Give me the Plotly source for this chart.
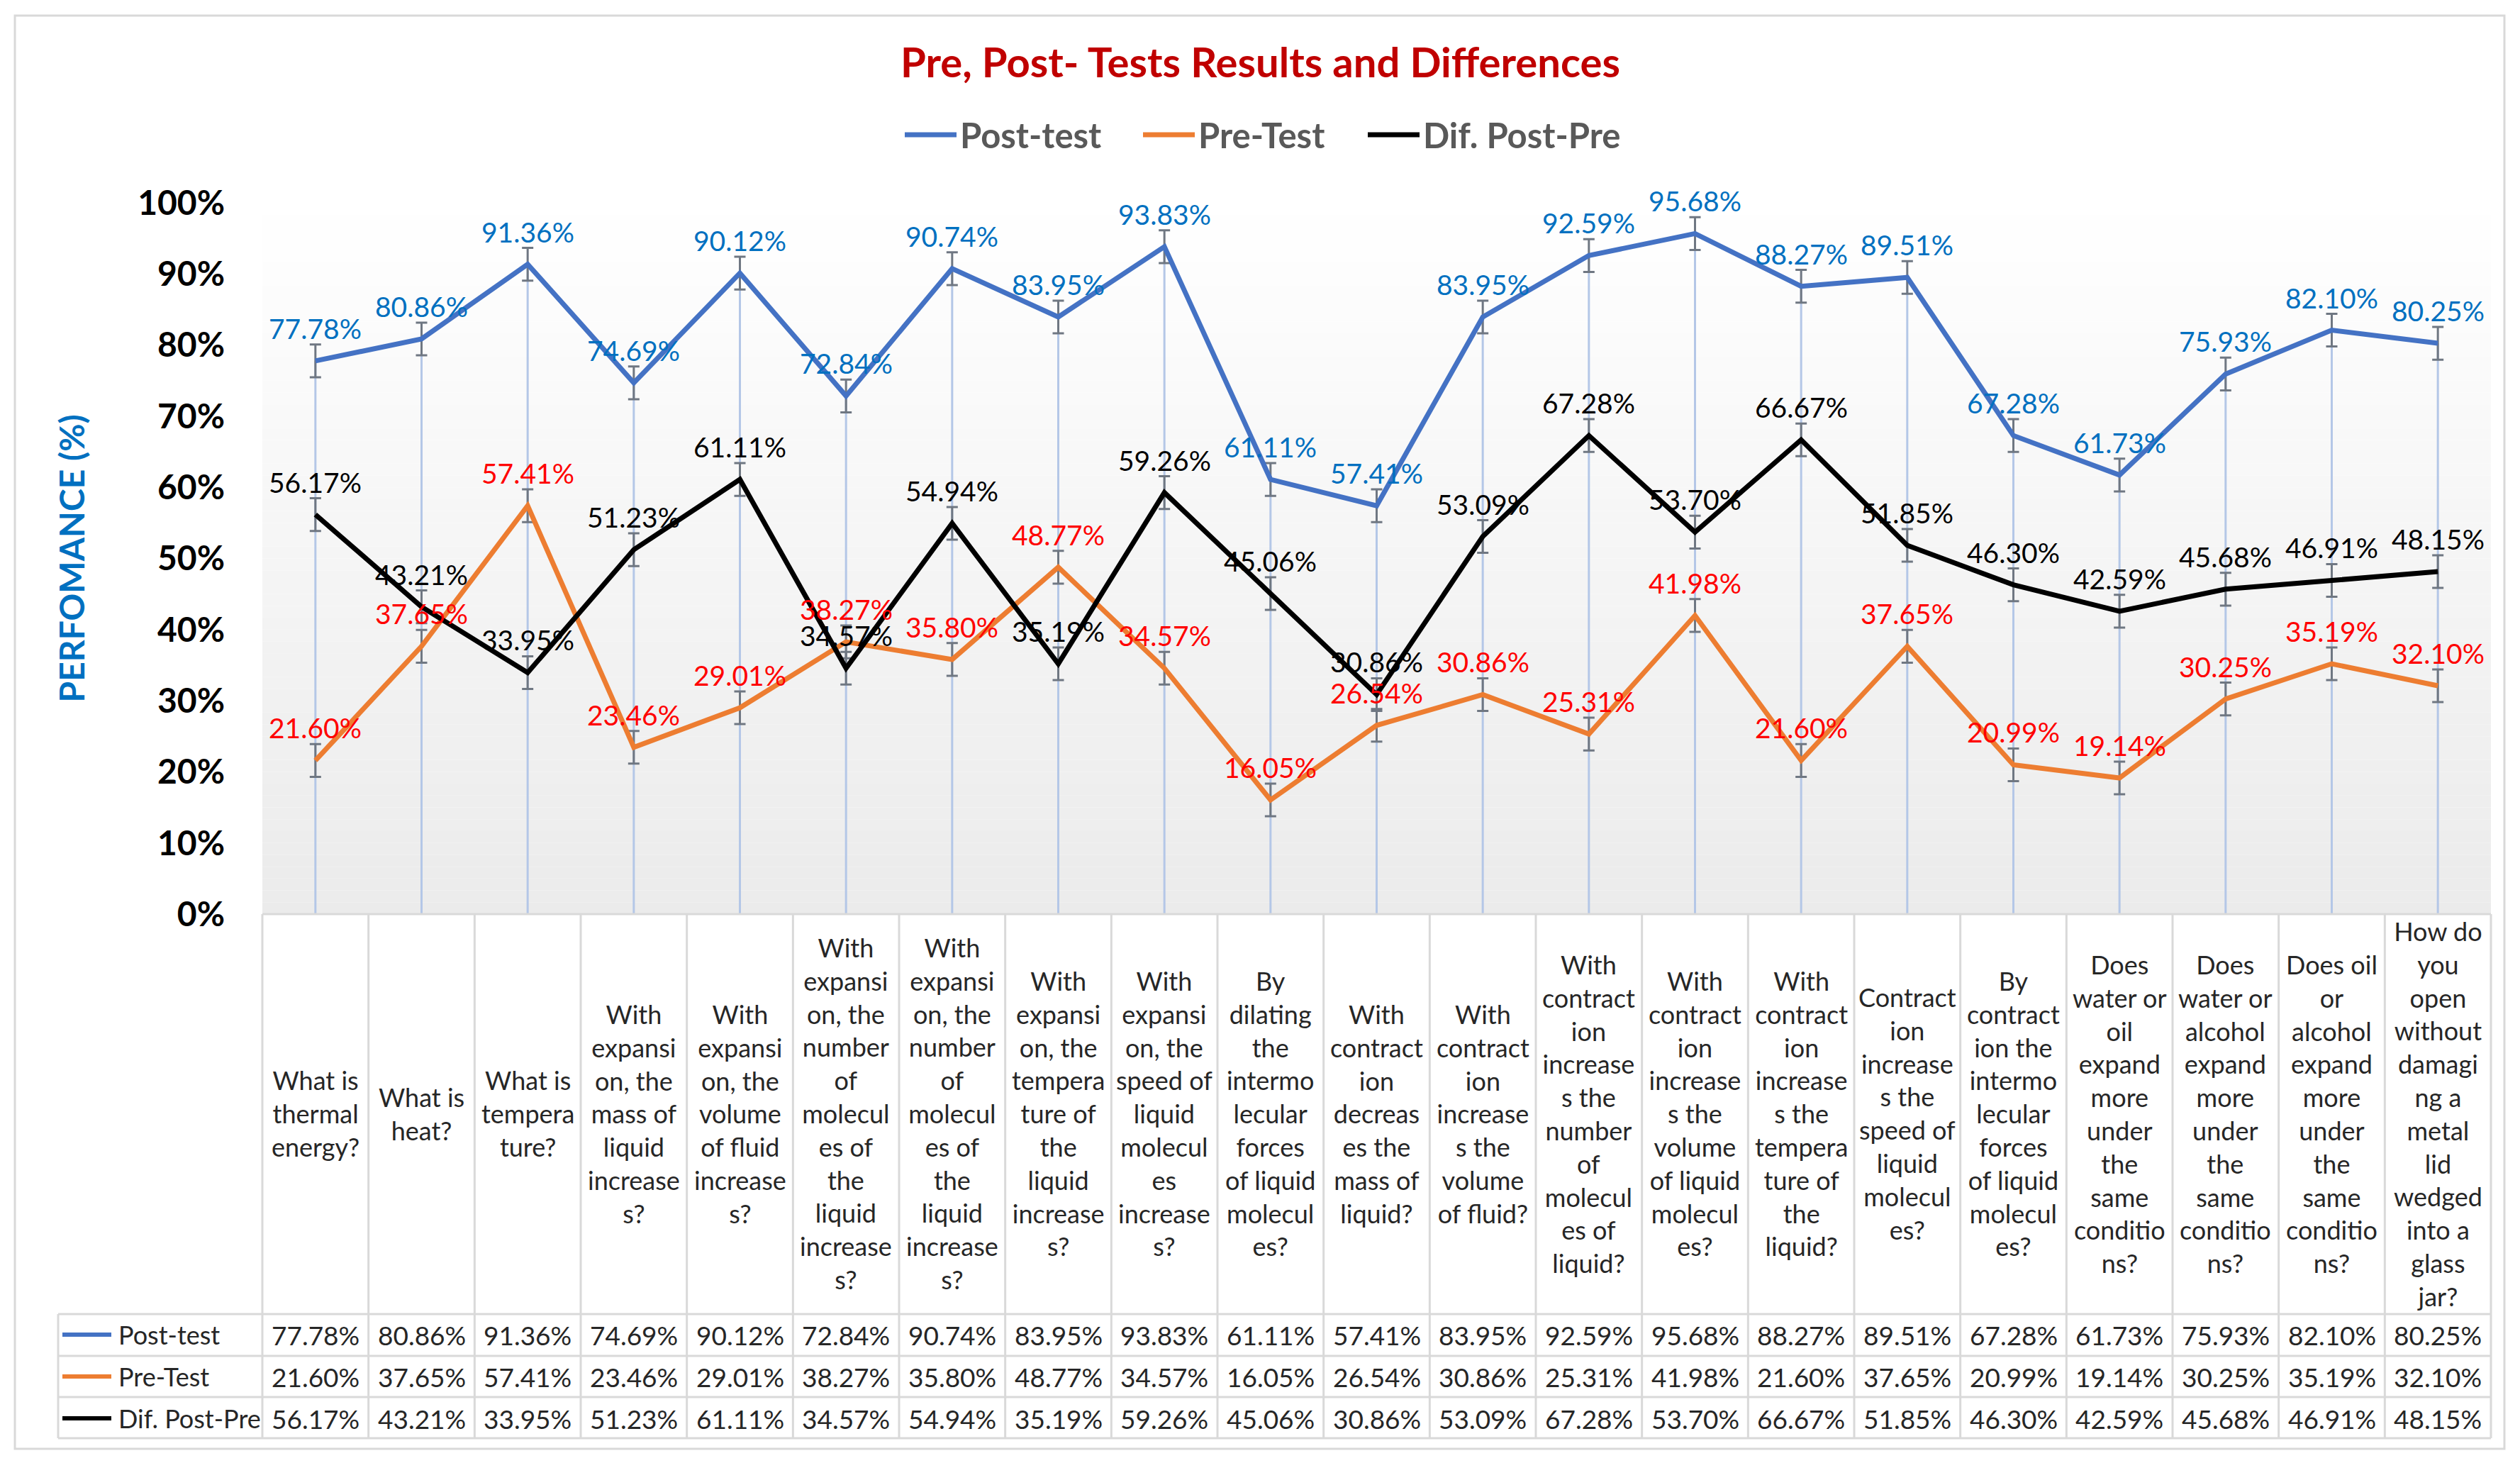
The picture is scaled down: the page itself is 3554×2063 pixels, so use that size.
import plotly.graph_objects as go

# questions of the test (column headers of the data table, wrapped as in the source)
questions = [
    "What is<br>thermal<br>energy?",
    "What is<br>heat?",
    "What is<br>tempera<br>ture?",
    "With<br>expansi<br>on, the<br>mass of<br>liquid<br>increase<br>s?",
    "With<br>expansi<br>on, the<br>volume<br>of fluid<br>increase<br>s?",
    "With<br>expansi<br>on, the<br>number<br>of<br>molecul<br>es of<br>the<br>liquid<br>increase<br>s?",
    "With<br>expansi<br>on, the<br>number<br>of<br>molecul<br>es of<br>the<br>liquid<br>increase<br>s?",
    "With<br>expansi<br>on, the<br>tempera<br>ture of<br>the<br>liquid<br>increase<br>s?",
    "With<br>expansi<br>on, the<br>speed of<br>liquid<br>molecul<br>es<br>increase<br>s?",
    "By<br>dilating<br>the<br>intermo<br>lecular<br>forces<br>of liquid<br>molecul<br>es?",
    "With<br>contract<br>ion<br>decreas<br>es the<br>mass of<br>liquid?",
    "With<br>contract<br>ion<br>increase<br>s the<br>volume<br>of fluid?",
    "With<br>contract<br>ion<br>increase<br>s the<br>number<br>of<br>molecul<br>es of<br>liquid?",
    "With<br>contract<br>ion<br>increase<br>s the<br>volume<br>of liquid<br>molecul<br>es?",
    "With<br>contract<br>ion<br>increase<br>s the<br>tempera<br>ture of<br>the<br>liquid?",
    "Contract<br>ion<br>increase<br>s the<br>speed of<br>liquid<br>molecul<br>es?",
    "By<br>contract<br>ion the<br>intermo<br>lecular<br>forces<br>of liquid<br>molecul<br>es?",
    "Does<br>water or<br>oil<br>expand<br>more<br>under<br>the<br>same<br>conditio<br>ns?",
    "Does<br>water or<br>alcohol<br>expand<br>more<br>under<br>the<br>same<br>conditio<br>ns?",
    "Does oil<br>or<br>alcohol<br>expand<br>more<br>under<br>the<br>same<br>conditio<br>ns?",
    "How do<br>you<br>open<br>without<br>damagi<br>ng a<br>metal<br>lid<br>wedged<br>into a<br>glass<br>jar?",
]

post_test = [77.78, 80.86, 91.36, 74.69, 90.12, 72.84, 90.74, 83.95, 93.83, 61.11, 57.41,
             83.95, 92.59, 95.68, 88.27, 89.51, 67.28, 61.73, 75.93, 82.10, 80.25]
pre_test = [21.60, 37.65, 57.41, 23.46, 29.01, 38.27, 35.80, 48.77, 34.57, 16.05, 26.54,
            30.86, 25.31, 41.98, 21.60, 37.65, 20.99, 19.14, 30.25, 35.19, 32.10]
dif_post_pre = [56.17, 43.21, 33.95, 51.23, 61.11, 34.57, 54.94, 35.19, 59.26, 45.06, 30.86,
                53.09, 67.28, 53.70, 66.67, 51.85, 46.30, 42.59, 45.68, 46.91, 48.15]

series_names = ["Post-test", "Pre-Test", "Dif. Post-Pre"]
error_size = 2.3

FONT = "Lato"
W, H = 3554, 2063
OFF = 8                              # page body margin
L, R, T, B = 370, 3513, 286, 1289    # plot area in reference pixels


def px(x):
    return (x - L) / (R - L)


def py(y):
    return (B - y) / (B - T)


line_colors = ["#4472C4", "#ED7D31", "#000000"]
label_colors = ["#0070C0", "#FF0000", "#000000"]
series_values = [post_test, pre_test, dif_post_pre]
x = list(range(len(questions)))
n = len(questions)

fig = go.Figure()

# drop lines from the highest point down to the axis
drop_x, drop_y = [], []
for i, v in enumerate(post_test):
    drop_x += [i, i, None]
    drop_y += [0, v, None]
fig.add_trace(go.Scatter(x=drop_x, y=drop_y, mode="lines", line=dict(color="#B4C7E7", width=3),
                         hoverinfo="skip", showlegend=False))

for name, vals, col in zip(series_names, series_values, line_colors):
    fig.add_trace(go.Scatter(
        x=x, y=vals, name=name, mode="lines",
        line=dict(color=col, width=7),
        error_y=dict(type="constant", value=error_size, color="#6F7782", thickness=3, width=8),
        showlegend=False))

annotations = []
# data labels
for vals, col in zip(series_values, label_colors):
    for i, v in enumerate(vals):
        annotations.append(dict(x=i, y=v, xref="x", yref="y", text=f"{v:.2f}%", showarrow=False,
                                yshift=46, font=dict(family=FONT, size=39, color=col)))

# table header (questions)
for i, q in enumerate(questions):
    annotations.append(dict(x=i, y=py(1570), xref="x", yref="paper", text=q, showarrow=False,
                            align="center", yanchor="middle",
                            font=dict(family=FONT, size=36, color="#262626")))

# table rows
row_centers = [1882, 1941, 2000]
for name, vals, col, yc in zip(series_names, series_values, line_colors, row_centers):
    for i, v in enumerate(vals):
        annotations.append(dict(x=i, y=py(yc), xref="x", yref="paper", text=f"{v:.2f}%",
                                showarrow=False, yanchor="middle",
                                font=dict(family=FONT, size=37, color="#262626")))
    annotations.append(dict(x=px(165), y=py(yc), xref="paper", yref="paper", text=name,
                            showarrow=False, xanchor="left", yanchor="middle",
                            font=dict(family=FONT, size=36, color="#262626")))

# legend at the top
legend_keys = [1276, 1612, 1929]
for name, col, kx in zip(series_names, line_colors, legend_keys):
    annotations.append(dict(x=px(kx + 76), y=py(190), xref="paper", yref="paper", text=f"<b>{name}</b>",
                            showarrow=False, xanchor="left", yanchor="middle",
                            font=dict(family=FONT, size=49, color="#595959")))

# y axis title
annotations.append(dict(x=px(100), y=0.5, xref="paper", yref="paper", text="<b>PERFOMANCE (%)</b>",
                        showarrow=False, textangle=-90, xanchor="center", yanchor="middle",
                        font=dict(family=FONT, size=48, color="#0070C0")))

# title
annotations.append(dict(x=px(1777), y=py(86), xref="paper", yref="paper",
                        text="<b>Pre, Post- Tests Results and Differences</b>", showarrow=False,
                        xanchor="center", yanchor="middle",
                        font=dict(family=FONT, size=58, color="#C00000")))

shapes = []
# gradient plot background
bands = 60
for k in range(bands):
    g = round(255 - (255 - 235) * (k + 0.5) / bands)
    shapes.append(dict(type="rect", xref="paper", yref="paper", x0=0, x1=1,
                       y0=1 - (k + 1) / bands, y1=1 - k / bands, layer="below",
                       line=dict(width=0), fillcolor=f"rgb({g},{g},{g})"))

grid = "#D9D9D9"
for k in range(n + 1):
    shapes.append(dict(type="line", xref="paper", yref="paper", x0=k / n, x1=k / n,
                       y0=py(1289), y1=py(2028), line=dict(color=grid, width=3)))
shapes.append(dict(type="line", xref="paper", yref="paper", x0=0, x1=1, y0=py(1289), y1=py(1289),
                   line=dict(color=grid, width=3)))
for yy in [1853, 1912, 1970, 2028]:
    shapes.append(dict(type="line", xref="paper", yref="paper", x0=px(82), x1=1, y0=py(yy), y1=py(yy),
                       line=dict(color=grid, width=3)))
shapes.append(dict(type="line", xref="paper", yref="paper", x0=px(82), x1=px(82), y0=py(1853),
                   y1=py(2028), line=dict(color=grid, width=3)))

# legend keys in the table
for col, yc in zip(line_colors, row_centers):
    shapes.append(dict(type="line", xref="paper", yref="paper", x0=px(88), x1=px(157), y0=py(yc),
                       y1=py(yc), line=dict(color=col, width=6)))
# legend keys at the top
for col, kx in zip(line_colors, legend_keys):
    shapes.append(dict(type="line", xref="paper", yref="paper", x0=px(kx), x1=px(kx + 73), y0=py(190),
                       y1=py(190), line=dict(color=col, width=7)))

# outer border
shapes.append(dict(type="rect", xref="paper", yref="paper", x0=px(21), x1=px(3532), y0=py(22),
                   y1=py(2043), line=dict(color=grid, width=3)))

fig.update_layout(
    width=W, height=H, autosize=False,
    margin=dict(l=L - OFF, r=W - R + OFF, t=T - OFF, b=H - B + OFF),
    paper_bgcolor="white", plot_bgcolor="white",
    xaxis=dict(range=[-0.5, n - 0.5], showticklabels=False, showgrid=False, zeroline=False,
               showline=False, ticks=""),
    yaxis=dict(range=[0, 100], dtick=10, ticksuffix="%", showgrid=False, zeroline=False,
               showline=False, ticks="", ticklabelstandoff=52,
               tickfont=dict(family=FONT, size=48, color="#000000", weight="bold")),
    annotations=annotations,
    shapes=shapes,
    showlegend=False,
)

fig.write_html("out.html")
